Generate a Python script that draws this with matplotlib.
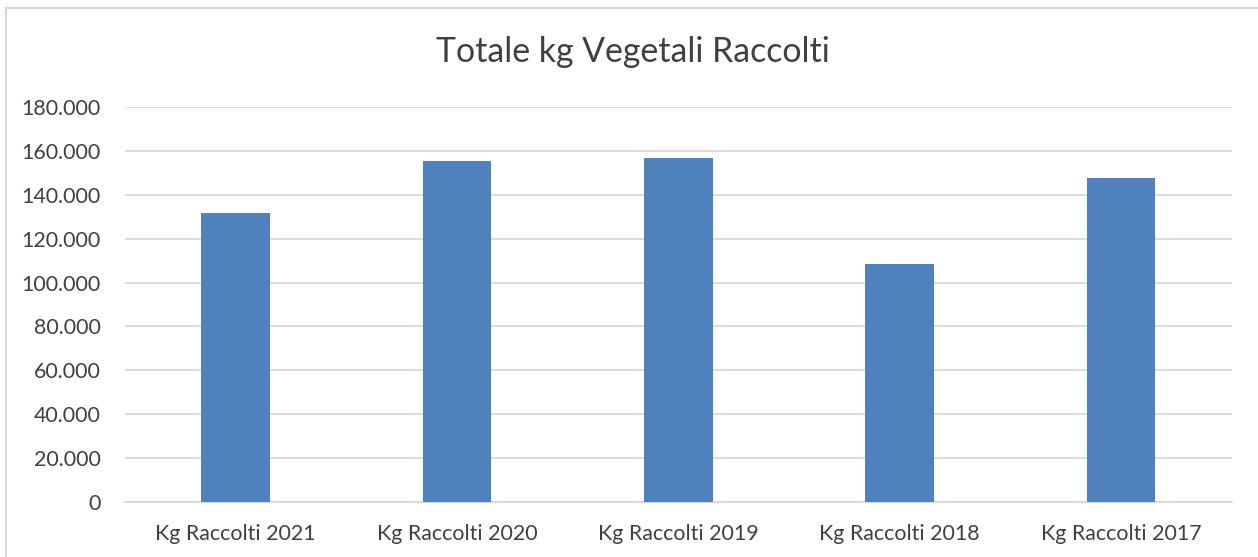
import matplotlib
matplotlib.use("Agg")
import matplotlib.pyplot as plt
from matplotlib.ticker import FuncFormatter
from matplotlib.patches import Rectangle

# data
categories = ["Kg Raccolti 2021", "Kg Raccolti 2020", "Kg Raccolti 2019",
              "Kg Raccolti 2018", "Kg Raccolti 2017"]
kg_values = [131600, 155400, 156700, 108300, 147600]
y_ticks = [0, 20000, 40000, 60000, 80000, 100000, 120000, 140000, 160000, 180000]

plt.rcParams['font.family'] = ['Lato', 'DejaVu Sans']
text_col = '#404040'

fig = plt.figure(figsize=(12.58, 5.57), dpi=100)
ax = fig.add_axes([125 / 1258, 55.3 / 557, (1231.7 - 125) / 1258, (501.7 - 107.3) / 557])

ax.bar(range(len(categories)), kg_values, width=0.31, color='#4f81bd', zorder=3)

ax.set_xlim(-0.5, len(categories) - 0.5)
ax.set_ylim(0, 180000)
ax.set_yticks(y_ticks)
ax.yaxis.set_major_formatter(FuncFormatter(lambda v, p: f"{int(v):,}".replace(",", ".")))
ax.set_xticks(range(len(categories)))
ax.set_xticklabels(categories)

ax.grid(axis='y', color='#d9d9d9', linewidth=1.3, zorder=0)
for s in ['top', 'right', 'left']:
    ax.spines[s].set_visible(False)
ax.spines['bottom'].set_color('#d9d9d9')
ax.spines['bottom'].set_linewidth(1.3)
ax.tick_params(axis='both', length=0, labelsize=15.4, colors=text_col)
ax.tick_params(axis='y', pad=17.3)
ax.tick_params(axis='x', pad=16)

fig.text(633 / 1258, 1 - 52 / 557, "Totale kg Vegetali Raccolti", ha='center', va='center',
         fontsize=24.4, color=text_col)

# chart frame
fig.patches.append(Rectangle((6 / 1258, -0.1), 1.2, 1.1 - 8.3 / 557, transform=fig.transFigure,
                             fill=False, edgecolor='#d9d9d9', linewidth=1.5))

fig.savefig("out.png", dpi=100)
